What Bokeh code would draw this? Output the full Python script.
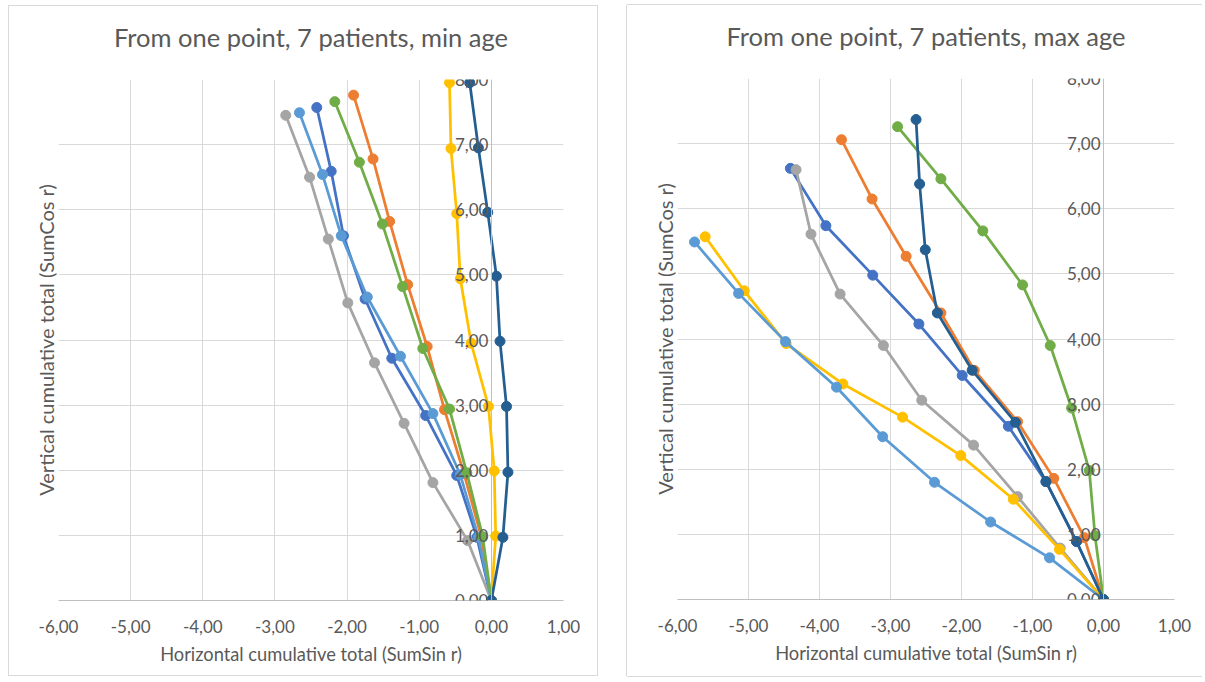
from bokeh.plotting import figure
from bokeh.layouts import row
from bokeh.models import LinearAxis, FixedTicker, CustomJSTickFormatter, Range1d, ColumnDataSource, Title
from bokeh.embed import file_html
from bokeh.resources import INLINE

# ---------------- data ----------------
series_names = ["Patient 1", "Patient 2", "Patient 3", "Patient 4", "Patient 5", "Patient 6", "Patient 7"]
x_ticks = [-6, -5, -4, -3, -2, -1, 0, 1]
y_ticks = [0, 1, 2, 3, 4, 5, 6, 7, 8]

# min age panel (SumSin r, SumCos r)
min_p1_x = [0, -0.20, -0.48, -0.91, -1.38, -1.75, -2.05, -2.22, -2.42]
min_p1_y = [0, 0.97, 1.92, 2.84, 3.72, 4.63, 5.60, 6.59, 7.57]
min_p2_x = [0, -0.14, -0.38, -0.65, -0.89, -1.16, -1.41, -1.64, -1.91]
min_p2_y = [0, 0.98, 1.95, 2.93, 3.90, 4.85, 5.82, 6.78, 7.76]
min_p3_x = [0, -0.33, -0.81, -1.21, -1.62, -1.99, -2.26, -2.52, -2.85]
min_p3_y = [0, 0.92, 1.81, 2.72, 3.65, 4.57, 5.55, 6.50, 7.45]
min_p4_x = [0, 0.06, 0.04, -0.04, -0.28, -0.43, -0.48, -0.56, -0.58]
min_p4_y = [0, 0.99, 1.99, 2.98, 3.95, 4.94, 5.94, 6.94, 7.95]
min_p5_x = [0, -0.18, -0.43, -0.81, -1.26, -1.72, -2.08, -2.34, -2.66]
min_p5_y = [0, 0.97, 1.93, 2.87, 3.75, 4.66, 5.60, 6.54, 7.49]
min_p6_x = [0, -0.12, -0.34, -0.58, -0.95, -1.23, -1.51, -1.83, -2.17]
min_p6_y = [0, 0.98, 1.96, 2.94, 3.87, 4.82, 5.78, 6.73, 7.66]
min_p7_x = [0, 0.16, 0.23, 0.21, 0.12, 0.07, -0.05, -0.18, -0.30]
min_p7_y = [0, 0.97, 1.97, 2.98, 3.98, 4.98, 5.96, 6.95, 7.95]

# max age panel
max_p1_x = [0, -0.38, -0.81, -1.34, -1.99, -2.60, -3.25, -3.91, -4.41]
max_p1_y = [0, 0.89, 1.81, 2.66, 3.44, 4.23, 4.98, 5.74, 6.62]
max_p2_x = [0, -0.27, -0.70, -1.21, -1.82, -2.29, -2.78, -3.26, -3.69]
max_p2_y = [0, 0.95, 1.86, 2.73, 3.52, 4.40, 5.27, 6.15, 7.06]
max_p3_x = [0, -0.61, -1.21, -1.83, -2.56, -3.10, -3.71, -4.12, -4.33]
max_p3_y = [0, 0.79, 1.58, 2.37, 3.06, 3.90, 4.69, 5.61, 6.60]
max_p4_x = [0, -0.62, -1.27, -2.01, -2.83, -3.67, -4.47, -5.06, -5.61]
max_p4_y = [0, 0.77, 1.54, 2.21, 2.80, 3.31, 3.93, 4.74, 5.57]
max_p5_x = [0, -0.76, -1.59, -2.38, -3.11, -3.76, -4.48, -5.14, -5.76]
max_p5_y = [0, 0.64, 1.19, 1.80, 2.50, 3.26, 3.96, 4.70, 5.49]
max_p6_x = [0, -0.12, -0.20, -0.45, -0.75, -1.14, -1.70, -2.29, -2.90]
max_p6_y = [0, 0.98, 1.98, 2.94, 3.90, 4.83, 5.66, 6.46, 7.26]
max_p7_x = [0, -0.38, -0.81, -1.24, -1.85, -2.34, -2.51, -2.59, -2.64]
max_p7_y = [0, 0.89, 1.81, 2.72, 3.52, 4.40, 5.37, 6.38, 7.37]

min_series = [(min_p1_x, min_p1_y), (min_p2_x, min_p2_y), (min_p3_x, min_p3_y), (min_p4_x, min_p4_y),
              (min_p5_x, min_p5_y), (min_p6_x, min_p6_y), (min_p7_x, min_p7_y)]
max_series = [(max_p1_x, max_p1_y), (max_p2_x, max_p2_y), (max_p3_x, max_p3_y), (max_p4_x, max_p4_y),
              (max_p5_x, max_p5_y), (max_p6_x, max_p6_y), (max_p7_x, max_p7_y)]

# ---------------- style ----------------
FONT = "Lato"
TEXT = "#595959"
GRID = "#D9D9D9"
AXIS = "#BFBFBF"
COLORS = ["#4472C4", "#ED7D31", "#A5A5A5", "#FFC000", "#5B9BD5", "#70AD47", "#255E91"]

FMT = "return tick.toFixed(2).replace('.', ',');"


def make(title, series, width, mbl, mbr, styles):
    p = figure(width=width, height=671, x_range=Range1d(-6, 1), y_range=Range1d(0, 8),
               output_backend="svg", toolbar_location=None,
               min_border_left=mbl, min_border_right=mbr, min_border_top=73, min_border_bottom=77,
               title=title)
    if styles:
        p.styles = styles
    p.outline_line_color = None
    p.background_fill_color = "white"
    p.border_fill_color = "white"

    p.title.align = "center"
    p.title.text_font = FONT
    p.title.text_font_size = "25.5px"
    p.title.text_font_style = "normal"
    p.title.text_color = TEXT
    p.title.standoff = 0

    # spacer between the title and the plot area
    p.add_layout(Title(text=" ", text_font_size="1px", standoff=25), "above")

    # x axis
    xa = p.xaxis[0]
    xa.ticker = FixedTicker(ticks=x_ticks)
    xa.formatter = CustomJSTickFormatter(code=FMT)
    xa.axis_line_color = AXIS
    xa.axis_line_width = 1
    xa.major_tick_in = 0
    xa.major_tick_out = 0
    xa.minor_tick_in = 0
    xa.minor_tick_out = 0
    xa.major_label_standoff = 19
    xa.major_label_text_font = FONT
    xa.major_label_text_font_size = "17px"
    xa.major_label_text_color = TEXT
    xa.axis_label = "Horizontal cumulative total (SumSin r)"
    xa.axis_label_text_font = FONT
    xa.axis_label_text_font_size = "18.3px"
    xa.axis_label_text_font_style = "normal"
    xa.axis_label_text_color = TEXT
    xa.axis_label_standoff = 7

    # main y axis: title only
    ya = p.yaxis[0]
    ya.ticker = FixedTicker(ticks=[])
    ya.axis_line_color = None
    ya.major_tick_in = 0
    ya.major_tick_out = 0
    ya.minor_tick_in = 0
    ya.minor_tick_out = 0
    ya.major_label_standoff = 0
    ya.axis_label = "Vertical cumulative total (SumCos r)"
    ya.axis_label_text_font = FONT
    ya.axis_label_text_font_size = "20px"
    ya.axis_label_text_font_style = "normal"
    ya.axis_label_text_color = TEXT
    ya.axis_label_standoff = 1

    # y axis crossing at x = 0
    y0 = LinearAxis(fixed_location=0, ticker=FixedTicker(ticks=y_ticks),
                    formatter=CustomJSTickFormatter(code=FMT))
    y0.axis_line_color = AXIS
    y0.major_tick_in = 0
    y0.major_tick_out = 0
    y0.minor_tick_in = 0
    y0.minor_tick_out = 0
    y0.major_label_standoff = 3
    y0.major_label_text_font = FONT
    y0.major_label_text_font_size = "17px"
    y0.major_label_text_color = TEXT
    p.add_layout(y0, "left")

    p.xgrid[0].ticker = FixedTicker(ticks=x_ticks)
    p.ygrid[0].ticker = FixedTicker(ticks=y_ticks)
    p.grid.grid_line_color = GRID
    p.grid.grid_line_width = 1

    for (xs, ys), c, name in zip(series, COLORS, series_names):
        src = ColumnDataSource(data=dict(x=xs, y=ys))
        p.line("x", "y", source=src, line_color=c, line_width=2.75)
        p.scatter("x", "y", source=src, size=10, fill_color=c, line_color=c)
    return p


p_min = make("From one point, 7 patients, min age", min_series, 590, 49, 36,
             {"border": "1px solid #D9D9D9"})
p_max = make("From one point, 7 patients, max age", max_series, 575, 50, 28,
             {"box-shadow": "-1px 0px 0px 0px #D9D9D9, 0px -1px 0px 0px #D9D9D9, 0px 1px 0px 0px #D9D9D9"})

layout = row(p_min, p_max, spacing=29, margin=(5, 0, 0, 8))
open("out.html", "w").write(file_html(layout, INLINE))
